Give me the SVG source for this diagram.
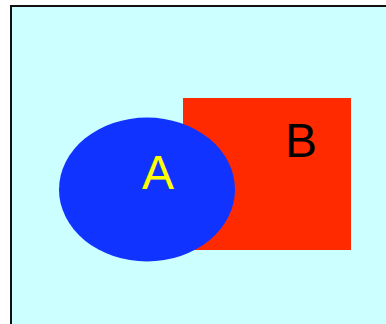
<svg xmlns="http://www.w3.org/2000/svg" width="386" height="324" viewBox="0 0 386 324">
<style>
.lbl{font-family:"Liberation Sans",Arial,sans-serif;font-size:48px;text-anchor:middle}
</style>
<rect x="0" y="0" width="386" height="324" fill="#ffffff"/>
<g id="background">
<rect x="11" y="6" width="400" height="340" fill="#ccffff" stroke="#111111" stroke-width="2"/>
</g>
<g id="B">
<rect x="183" y="98" width="168" height="152" fill="#ff2a00"/>
<text class="lbl" x="301" y="157" fill="#000000">B</text>
</g>
<g id="A">
<ellipse cx="147" cy="189.5" rx="88" ry="72" fill="#1133ff"/>
<text class="lbl" x="158" y="189" fill="#ffff00">A</text>
</g>
<g id="connectors"></g>
</svg>
